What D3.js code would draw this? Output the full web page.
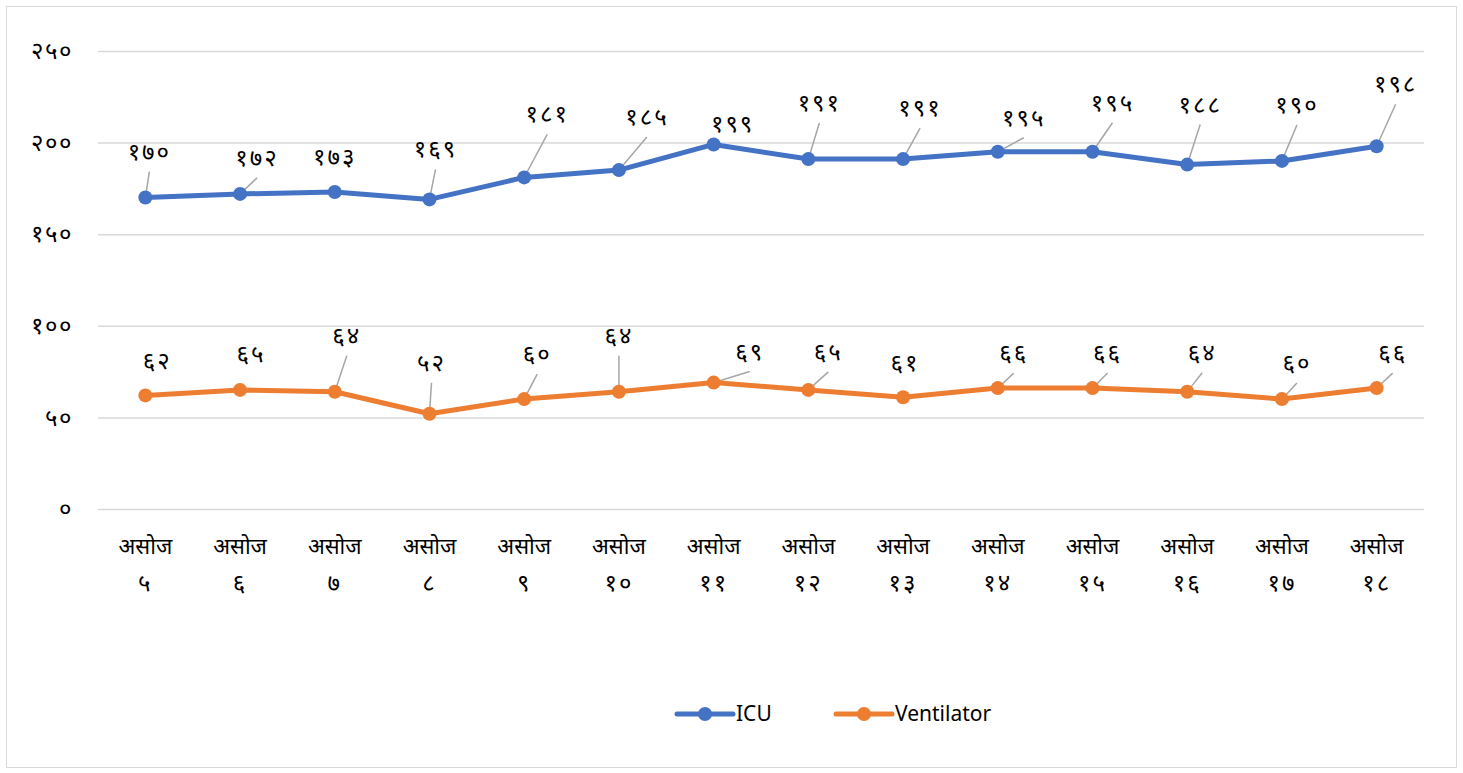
<!DOCTYPE html>
<html>
<head>
<meta charset="utf-8">
<script src="https://cdn.jsdelivr.net/npm/d3@7"></script>
<style>
  body { margin: 0; background: #fff; }
  svg { display: block; font-family: "Noto Sans", "Open Sans", sans-serif; }
</style>
</head>
<body>
<svg id="chart" width="1463" height="773"></svg>
<script>
// chart data
var days = [5, 6, 7, 8, 9, 10, 11, 12, 13, 14, 15, 16, 17, 18];
var monthName = 'असोज';
var icuValues = [170, 172, 173, 169, 181, 185, 199, 191, 191, 195, 195, 188, 190, 198];
var ventilatorValues = [62, 65, 64, 52, 60, 64, 69, 65, 61, 66, 66, 64, 60, 66];
var yTicks = [0, 50, 100, 150, 200, 250];

// label offsets (px) from each point, mimicking the hand-dragged labels
var icuLabelOffsets = [
  [4, -46], [17, -36], [0, -35], [6, -50], [23, -63], [28, -53], [19, -20],
  [11, -56], [17, -51], [26, -34], [20, -49], [13, -60], [15, -56], [19, -62]
];
var ventLabelOffsets = [
  [12, -34], [11, -36], [12, -56], [2, -51], [13, -45], [0, -56], [36, -31],
  [20, -38], [2, -34], [16, -35], [15, -35], [15, -39], [15, -36], [16, -35]
];

var devDigits = '०१२३४५६७८९';
function toDev(n) {
  return String(n).replace(/[0-9]/g, function (d) { return devDigits[+d]; });
}

var svg = d3.select('#chart');
var margin = { left: 98, right: 1424, top: 51, bottom: 509 };

svg.append('rect')
  .attr('x', 6.5).attr('y', 6.5)
  .attr('width', 1450).attr('height', 761)
  .attr('fill', '#fff')
  .attr('stroke', '#d9d9d9');

var x = d3.scaleBand()
  .domain(days)
  .range([margin.left, margin.right]);

var y = d3.scaleLinear()
  .domain([0, 250])
  .range([margin.bottom, margin.top]);

function cx(d, i) { return x(days[i]) + x.bandwidth() / 2; }

// gridlines + y labels
var yAxis = d3.axisLeft(y)
  .tickValues(yTicks)
  .tickSize(-(margin.right - margin.left))
  .tickPadding(25)
  .tickFormat(toDev);

svg.append('g')
  .attr('transform', 'translate(' + margin.left + ',0)')
  .call(yAxis)
  .call(function (g) {
    g.select('.domain').remove();
    g.selectAll('.tick line').attr('stroke', '#d9d9d9').attr('stroke-width', 1.5);
    g.selectAll('.tick text')
      .attr('fill', '#000')
      .attr('font-size', 24)
      .attr('letter-spacing', 2);
  });

// x labels (two lines)
var xLab = svg.append('g').selectAll('text')
  .data(days)
  .enter()
  .append('text')
  .attr('x', function (d) { return x(d) + x.bandwidth() / 2; })
  .attr('y', 554)
  .attr('text-anchor', 'middle')
  .attr('font-size', 22)
  .attr('fill', '#000');
xLab.append('tspan').text(monthName);
xLab.append('tspan')
  .attr('x', function (d) { return x(d) + x.bandwidth() / 2; })
  .attr('dy', 37)
  .attr('font-size', 24)
  .attr('letter-spacing', 2)
  .text(function (d) { return toDev(d); });

var line = d3.line()
  .x(cx)
  .y(function (d) { return y(d); });

function drawSeries(values, color) {
  var g = svg.append('g');
  g.append('path')
    .datum(values)
    .attr('d', line)
    .attr('fill', 'none')
    .attr('stroke', color)
    .attr('stroke-width', 5)
    .attr('stroke-linejoin', 'round');

  g.selectAll('circle')
    .data(values)
    .enter()
    .append('circle')
    .attr('cx', cx)
    .attr('cy', function (d) { return y(d); })
    .attr('r', 7)
    .attr('fill', color);

  return g;
}

function drawLabels(values, offsets) {
  var g = svg.append('g');
  values.forEach(function (v, i) {
    var px = cx(v, i);
    var py = y(v);
    var lx = px + offsets[i][0];
    var ly = py + offsets[i][1];
    var dist = Math.sqrt(offsets[i][0] * offsets[i][0] + offsets[i][1] * offsets[i][1]);
    if (dist > 38) {
      // leader line from under the label toward the point
      var ex = lx, ey = ly + 20;
      var vx = px - ex, vy = py - ey;
      var len = Math.sqrt(vx * vx + vy * vy);
      g.append('line')
        .attr('x1', ex).attr('y1', ey)
        .attr('x2', px - vx / len * 3).attr('y2', py - vy / len * 3)
        .attr('stroke', '#a6a6a6')
        .attr('stroke-width', 1.5);
    }
    g.append('text')
      .attr('x', lx)
      .attr('y', ly + 8)
      .attr('text-anchor', 'middle')
      .attr('font-size', 24)
      .attr('letter-spacing', 2)
      .attr('fill', '#000')
      .text(toDev(v));
  });
}

drawLabels(icuValues, icuLabelOffsets);
drawLabels(ventilatorValues, ventLabelOffsets);
drawSeries(icuValues, '#4472c4');
drawSeries(ventilatorValues, '#ed7d31');

// legend
var legendItems = [
  { name: 'ICU', color: '#4472c4', x: 677 },
  { name: 'Ventilator', color: '#ed7d31', x: 836 }
];
var leg = svg.append('g').selectAll('g')
  .data(legendItems)
  .enter()
  .append('g')
  .attr('transform', function (d) { return 'translate(' + d.x + ',714)'; });
leg.append('line')
  .attr('x1', 0).attr('x2', 56)
  .attr('stroke', function (d) { return d.color; })
  .attr('stroke-width', 5)
  .attr('stroke-linecap', 'round');
leg.append('circle')
  .attr('cx', 28)
  .attr('r', 7)
  .attr('fill', function (d) { return d.color; });
leg.append('text')
  .attr('x', 59)
  .attr('y', 7)
  .attr('font-size', 21)
  .attr('fill', '#000')
  .text(function (d) { return d.name; });
</script>
</body>
</html>
